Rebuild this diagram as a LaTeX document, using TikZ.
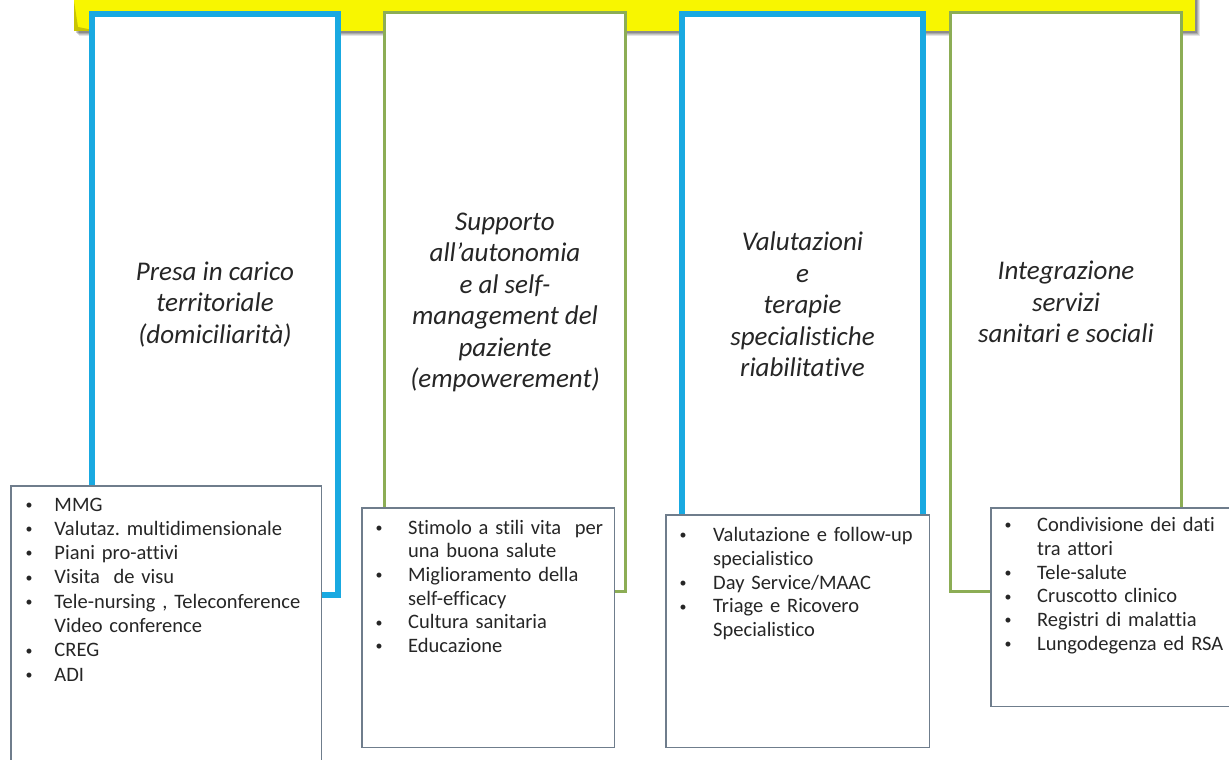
\documentclass[tikz,border=0pt]{standalone}
\usepackage{fontspec}
\setmainfont{Carlito}[Ligatures=NoCommon]
\definecolor{barfill}{HTML}{F8F600}
\definecolor{barshade}{HTML}{C9C400}
\definecolor{colblue}{HTML}{19A9E1}
\definecolor{colgreen}{HTML}{8CAD55}
\definecolor{listedge}{HTML}{6F7D8C}
\definecolor{ink}{HTML}{262626}
% a small round bullet
\newcommand{\smallbullet}{\raisebox{1.8pt}{\fontsize{14}{14}\selectfont\textbullet}}
% first line of a bulleted item, and a continuation line of it
\newcommand{\bulletline}[2]{\noindent\makebox[#1][l]{\smallbullet}#2\par}
\newcommand{\moreline}[2]{\noindent\hspace*{#1}#2\par}
\tikzset{
  column/.style={draw, fill=white, inner sep=0pt, outer sep=0pt, anchor=north west},
  bluecol/.style={column, draw=colblue, line width=6pt},
  greencol/.style={column, draw=colgreen, line width=3pt},
  listbox/.style={draw=listedge, fill=white, line width=1.5pt, inner sep=0pt,
    outer sep=0pt, anchor=north west},
  title/.style={align=center, text=ink, inner sep=0pt,
    font=\fontsize{27}{31.5}\selectfont\itshape},
  listtext/.style={text width=300pt, text=ink, inner sep=0pt,
    anchor=base west, font=\fontsize{20.5}{#1}\selectfont\frenchspacing},
  listtext/.default=23.7
}
\begin{document}
\begin{tikzpicture}[x=1pt, y=-1pt]
\useasboundingbox (0,0) rectangle (1229,760);
\clip (0,0) rectangle (1229,760);

% header bar with its soft shadow
\foreach \d/\o in {5/0.10, 4/0.12, 3/0.15, 2/0.18}
  \fill[black, opacity=\o] (74+\d,-5) rectangle (1195+\d,31+\d);
\node[fill=barfill, inner sep=0pt, minimum width=1121pt, minimum height=36pt,
  anchor=south west] (bar) at (74,31) {};
\fill[barshade] (bar.south west) -- ++(0,-30) -- ++(4,26) -- ++(20,4) -- cycle;

% the four columns
\node[bluecol,  minimum width=246pt, minimum height=581pt]   (c1) at (92,14) {};
\node[greencol, minimum width=241pt, minimum height=578.5pt] (c2) at (384.5,13) {};
\node[bluecol,  minimum width=241pt, minimum height=581pt]   (c3) at (682,14) {};
\node[greencol, minimum width=231pt, minimum height=578.5pt] (c4) at (950.5,13) {};

\node[title] (t1) at (c1.center) {Presa in carico\\territoriale\\(domiciliarità)};
\node[title] (t2) at (c2.center) {Supporto\\all’autonomia\\e al self-\\management del\\paziente\\(empowerement)};
\node[title] (t3) at (c3.center) {Valutazioni\\e\\terapie\\specialistiche\\riabilitative};
\node[title] (t4) at (c4.center) {Integrazione\\servizi\\sanitari e sociali};

% item boxes below the columns
\node[listbox, minimum width=310.5pt, minimum height=300pt]   (l1) at (10.75,485.75) {};
\node[listbox, minimum width=252.5pt, minimum height=239.5pt] (l2) at (361.75,507.75) {};
\node[listbox, minimum width=263.5pt, minimum height=232.5pt] (l3) at (665.75,514.75) {};
\node[listbox, minimum width=240pt,   minimum height=198.5pt] (l4) at (990.75,507.75) {};

\node[listtext=24.3] (i1) at (25.5,511) {%
  \bulletline{28.8pt}{MMG}
  \bulletline{28.8pt}{Valutaz. multidimensionale}
  \bulletline{28.8pt}{Piani pro-attivi}
  \bulletline{28.8pt}{Visita\ \ de visu}
  \bulletline{28.8pt}{Tele-nursing , Teleconference}
  \moreline{28.8pt}{Video conference}
  \bulletline{28.8pt}{CREG}
  \bulletline{28.8pt}{ADI}};
\node[listtext] (i2) at (375.5,534) {%
  \bulletline{32.5pt}{Stimolo a stili vita\ \ per}
  \moreline{32.5pt}{una buona salute}
  \bulletline{32.5pt}{Miglioramento della}
  \moreline{32.5pt}{self-efficacy}
  \bulletline{32.5pt}{Cultura sanitaria}
  \bulletline{32.5pt}{Educazione}};
\node[listtext] (i3) at (679.5,541.7) {%
  \bulletline{33.5pt}{Valutazione e follow-up}
  \moreline{33.5pt}{specialistico}
  \bulletline{33.5pt}{Day Service/MAAC}
  \bulletline{33.5pt}{Triage e Ricovero}
  \moreline{33.5pt}{Specialistico}};
\node[listtext] (i4) at (1004.5,531.7) {%
  \bulletline{32.5pt}{Condivisione dei dati}
  \moreline{32.5pt}{tra attori}
  \bulletline{32.5pt}{Tele-salute}
  \bulletline{32.5pt}{Cruscotto clinico}
  \bulletline{32.5pt}{Registri di malattia}
  \bulletline{32.5pt}{Lungodegenza ed RSA}};
\end{tikzpicture}
\end{document}
